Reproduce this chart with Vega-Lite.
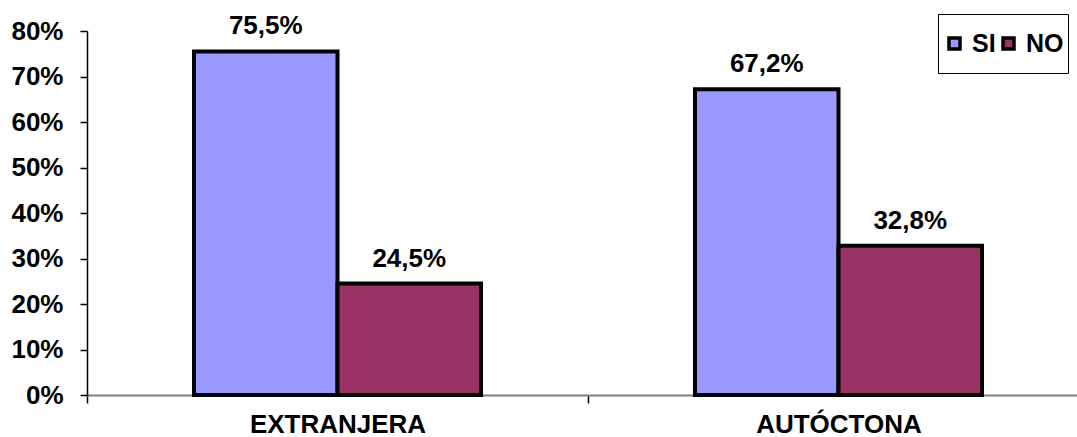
{
  "$schema": "https://vega.github.io/schema/vega-lite/v6.json",
  "autosize": {"type": "none"},
  "padding": {"left": 87, "top": 31, "right": 0, "bottom": 42},
  "width": 990,
  "height": 364,
  "background": "white",
  "config": {
    "view": {"stroke": null},
    "font": "Liberation Sans",
    "locale": {"number": {"decimal": ",", "thousands": ".", "grouping": [3], "currency": ["", " €"]}}
  },
  "data": {
    "values": [
      {"grupo": "EXTRANJERA", "respuesta": "SI", "valor": 0.755},
      {"grupo": "EXTRANJERA", "respuesta": "NO", "valor": 0.245},
      {"grupo": "AUTÓCTONA", "respuesta": "SI", "valor": 0.672},
      {"grupo": "AUTÓCTONA", "respuesta": "NO", "valor": 0.328}
    ]
  },
  "encoding": {
    "x": {
      "field": "grupo", "type": "nominal",
      "scale": {"domain": ["EXTRANJERA", "AUTÓCTONA"], "range": [0, 1002], "paddingInner": 0, "paddingOuter": 0},
      "axis": {
        "title": null, "labelAngle": 0, "tickBand": "extent",
        "domainColor": "#808080", "domainWidth": 2,
        "tickColor": "black", "tickSize": 8, "tickWidth": 1.5,
        "labelFont": "Liberation Sans", "labelFontSize": 26, "labelFontWeight": "bold", "labelColor": "black",
        "labelBaseline": "alphabetic", "labelPadding": 29
      }
    },
    "xOffset": {
      "field": "respuesta", "type": "nominal",
      "scale": {"domain": ["SI", "NO"], "paddingInner": 0, "paddingOuter": 0.7456}
    },
    "y": {
      "field": "valor", "type": "quantitative",
      "scale": {"domain": [0, 0.8], "nice": false},
      "axis": {
        "title": null, "grid": false, "values": [0, 0.1, 0.2, 0.3, 0.4, 0.5, 0.6, 0.7, 0.8], "format": ".0%",
        "domainColor": "black", "domainWidth": 1.5, "tickColor": "black", "tickSize": 7, "tickWidth": 1.5,
        "labelPadding": 17, "labelFont": "Liberation Sans", "labelFontSize": 26, "labelFontWeight": "bold", "labelColor": "black"
      }
    }
  },
  "layer": [
    {
      "mark": {"type": "bar", "stroke": "black", "strokeWidth": 4},
      "encoding": {
        "color": {
          "field": "respuesta", "type": "nominal",
          "scale": {"domain": ["SI", "NO"], "range": ["#9999FF", "#993366"]},
          "legend": {
            "orient": "none", "legendX": 851, "legendY": -17, "direction": "horizontal",
            "title": null, "strokeColor": "black", "fillColor": "white", "padding": 4,
            "symbolType": "square", "symbolSize": 121, "symbolStrokeColor": "black", "symbolStrokeWidth": 3.5,
            "symbolOpacity": 1,
            "labelFont": "Liberation Sans", "labelFontSize": 25, "labelFontWeight": "bold", "labelColor": "black",
            "labelOffset": 5, "columnPadding": 0, "clipHeight": 51
          }
        }
      }
    },
    {
      "mark": {"type": "text", "baseline": "alphabetic", "dy": -17, "fontSize": 26, "fontWeight": "bold", "font": "Liberation Sans", "color": "black"},
      "encoding": {
        "text": {"field": "valor", "type": "quantitative", "format": ".1%"}
      }
    }
  ]
}
